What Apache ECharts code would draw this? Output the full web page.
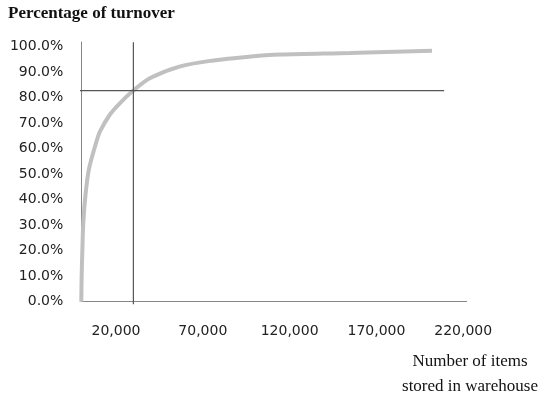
<!DOCTYPE html>
<html>
<head>
<meta charset="utf-8">
<script src="https://cdn.jsdelivr.net/npm/echarts@6/dist/echarts.min.js"></script>
<style>
html,body{margin:0;padding:0;background:#fff;}
#chart{width:542px;height:394px;}
</style>
</head>
<body>
<div id="chart"></div>
<script>
// Data
const itemsStored = [0, 200, 600, 1150, 2500, 4400, 8600, 10800, 16500, 22300, 30000, 39700, 57000, 76000, 95000, 115000, 155000, 202000];
const turnoverPct = [0, 10, 20, 31, 42.5, 52, 62.5, 66.8, 73.4, 77.9, 82.8, 87.7, 92.3, 94.6, 96.0, 96.9, 97.5, 98.4];
const xTicks = [20000, 70000, 120000, 170000, 220000];
const yTicks = [0, 10, 20, 30, 40, 50, 60, 70, 80, 90, 100];
const refItems = 30000;
const refPct = 82.8;
const refHLineX = [-3500, 209000];
const refVLineY = [-1, 101.7];
const titleText = 'Percentage of turnover';
const xName = 'Number of items\nstored in warehouse';

const chart = echarts.init(document.getElementById('chart'), null, {renderer: 'canvas'});
const fmtX = v => v.toLocaleString('en-US');
const option = {
  backgroundColor: '#ffffff',
  animation: false,
  grid: {left: 81.3, right: 75.3, top: 42.1, bottom: 92.3, containLabel: false},
  xAxis: {
    type: 'value', min: 0, max: 222000,
    axisLine: {show: true, lineStyle: {color: '#868686', width: 1}},
    axisTick: {show: false},
    splitLine: {show: false},
    axisLabel: {customValues: xTicks, formatter: fmtX, margin: 23,
      fontFamily: 'DejaVu Sans', fontSize: 14, color: '#222'}
  },
  yAxis: {
    type: 'value', min: 0, max: 101.8,
    axisLine: {show: true, lineStyle: {color: '#868686', width: 1}},
    axisTick: {show: false},
    splitLine: {show: false},
    axisLabel: {customValues: yTicks, formatter: v => v.toFixed(1) + '%', margin: 18,
      fontFamily: 'DejaVu Sans', fontSize: 14, color: '#222'}
  },
  series: [
    {
      type: 'line', smooth: 0.3, symbol: 'none', clip: false, z: 3,
      lineStyle: {color: '#c0c0c0', width: 4},
      data: itemsStored.map((x, i) => [x, turnoverPct[i]])
    },
    {
      type: 'line', symbol: 'none', clip: false, z: 4,
      lineStyle: {color: '#555555', width: 1.2},
      data: refHLineX.map(x => [x, refPct])
    },
    {
      type: 'line', symbol: 'none', clip: false, z: 4,
      lineStyle: {color: '#555555', width: 1.2},
      data: refVLineY.map(y => [refItems, y])
    }
  ],
  graphic: [
    {type: 'text', x: 8, y: 13.5, style: {text: titleText, fontFamily: 'Liberation Serif',
      fontWeight: 'bold', fontSize: 17, fill: '#111', textVerticalAlign: 'middle'}},
    {type: 'text', x: 470, y: 349, style: {text: xName, fontFamily: 'Liberation Serif',
      fontSize: 17, lineHeight: 25, fill: '#111', textAlign: 'center', textVerticalAlign: 'top'}}
  ]
};
chart.setOption(option);
</script>
</body>
</html>
